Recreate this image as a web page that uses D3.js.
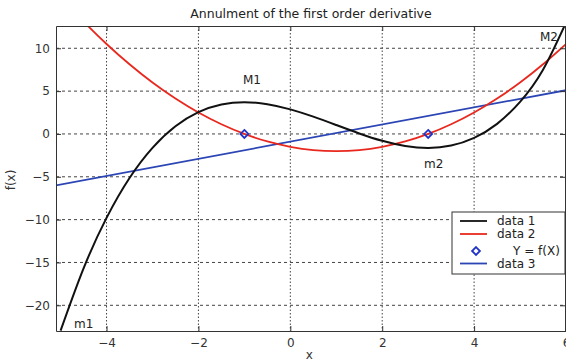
<!DOCTYPE html>
<html>
<head>
<meta charset="utf-8">
<script src="https://cdn.jsdelivr.net/npm/d3@7"></script>
<style>
  body { margin: 0; background: #fff; }
  text { font-family: "DejaVu Sans", "Liberation Sans", Arial, sans-serif; }
</style>
</head>
<body>
<div id="chart"></div>
<script>
// values
const xTicks = [-4, -2, 0, 2, 4, 6];
const yTicks = [-20, -15, -10, -5, 0, 5, 10];

// data 1 : f(x)
const data1X = [-5, -4.5, -4, -3.5, -3, -2.5, -2, -1.5, -1, -0.5, 0, 0.5, 1, 1.5, 2, 2.5, 3, 3.5, 4, 4.5, 5, 5.5, 6];
const data1Y = [-22.96, -15.69, -9.8, -5.15, -1.63, 0.89, 2.54, 3.43, 3.7, 3.47, 2.87, 2.02, 1.04, 0.06, -0.8, -1.4, -1.63, -1.36, -0.46, 1.18, 3.75, 7.5, 13.0];

// data 2 : f'(x)
const data2X = [-5, -4.5, -4, -3.5, -3, -2.5, -2, -1.5, -1, -0.5, 0, 0.5, 1, 1.5, 2, 2.5, 3, 3.5, 4, 4.5, 5, 5.5, 6];
const data2Y = [16, 13.13, 10.5, 8.13, 6, 4.13, 2.5, 1.13, 0, -0.88, -1.5, -1.88, -2, -1.88, -1.5, -0.88, 0, 1.13, 2.5, 4.13, 6, 8.13, 10.5];

// data 3 : straight line
const data3X = [-5.1, 6];
const data3Y = [-6.0, 5.1];

// Y = f(X) markers (zeros of the derivative)
const zeroX = [-1, 3];
const zeroY = [0, 0];

const labels = [
  { t: "M1", x: 243, y: 84 },
  { t: "m2", x: 424, y: 168 },
  { t: "m1", x: 74, y: 328 },
  { t: "M2", x: 540, y: 41 }
];

const W = 566, H = 364;
const plot = { left: 56, right: 566, top: 26, bottom: 331 };

const svg = d3.select("#chart").append("svg")
  .attr("width", W).attr("height", H);

const x = d3.scaleLinear().domain([-5.1, 6]).range([plot.left, plot.right]);
const y = d3.scaleLinear().domain([-23, 12.6]).range([plot.bottom, plot.top]);

// grid
const grid = svg.append("g");
grid.selectAll("line.gx").data(xTicks).enter().append("line")
  .attr("x1", d => x(d)).attr("x2", d => x(d))
  .attr("y1", plot.top).attr("y2", plot.bottom)
  .attr("stroke", "#444").attr("stroke-width", 1)
  .attr("stroke-dasharray", "1.5,2");
grid.selectAll("line.gy").data(yTicks).enter().append("line")
  .attr("x1", plot.left).attr("x2", plot.right)
  .attr("y1", d => y(d)).attr("y2", d => y(d))
  .attr("stroke", "#444").attr("stroke-width", 1)
  .attr("stroke-dasharray", "3,3");

// clip
svg.append("clipPath").attr("id", "clip").append("rect")
  .attr("x", plot.left).attr("y", plot.top)
  .attr("width", plot.right - plot.left).attr("height", plot.bottom - plot.top);

const body = svg.append("g").attr("clip-path", "url(#clip)");

const line = d3.line()
  .x(d => x(d[0])).y(d => y(d[1]))
  .curve(d3.curveNatural);

body.append("path")
  .datum(d3.zip(data3X, data3Y))
  .attr("d", line).attr("fill", "none")
  .attr("stroke", "#2b45b5").attr("stroke-width", 1.8);

body.append("path")
  .datum(d3.zip(data2X, data2Y))
  .attr("d", line).attr("fill", "none")
  .attr("stroke", "#e8281e").attr("stroke-width", 1.8);

body.append("path")
  .datum(d3.zip(data1X, data1Y))
  .attr("d", line).attr("fill", "none")
  .attr("stroke", "#111").attr("stroke-width", 2);

const diamond = d3.symbol().type(d3.symbolDiamond2).size(40);
body.selectAll("path.mk").data(d3.zip(zeroX, zeroY)).enter().append("path")
  .attr("d", diamond)
  .attr("transform", d => `translate(${x(d[0])},${y(d[1])})`)
  .attr("fill", "none").attr("stroke", "#2233c8").attr("stroke-width", 1.8);

// axes (inward ticks, MATLAB style)
const tickFont = g => g.selectAll("text")
  .attr("font-size", 12).attr("fill", "#333");

svg.append("g")
  .attr("transform", `translate(0,${plot.bottom})`)
  .call(d3.axisBottom(x).tickValues(xTicks).tickSizeInner(-5).tickSizeOuter(0).tickPadding(7))
  .call(g => g.select(".domain").attr("stroke", "#333"))
  .call(g => g.selectAll(".tick line").attr("stroke", "#333"))
  .call(tickFont);

svg.append("g")
  .attr("transform", `translate(${plot.left},0)`)
  .call(d3.axisLeft(y).tickValues(yTicks).tickSizeInner(-5).tickSizeOuter(0).tickPadding(6))
  .call(g => g.select(".domain").attr("stroke", "#333"))
  .call(g => g.selectAll(".tick line").attr("stroke", "#333"))
  .call(tickFont);

svg.append("g")
  .attr("transform", `translate(0,${plot.top})`)
  .call(d3.axisTop(x).tickValues(xTicks).tickSizeInner(-5).tickSizeOuter(0).tickFormat(""))
  .call(g => g.select(".domain").attr("stroke", "#333"))
  .call(g => g.selectAll(".tick line").attr("stroke", "#333"));

svg.append("g")
  .attr("transform", `translate(${plot.right - 1},0)`)
  .call(d3.axisRight(y).tickValues(yTicks).tickSizeInner(-5).tickSizeOuter(0).tickFormat(""))
  .call(g => g.select(".domain").attr("stroke", "#333"))
  .call(g => g.selectAll(".tick line").attr("stroke", "#333"));

// title and axis labels
svg.append("text")
  .attr("x", (plot.left + plot.right) / 2).attr("y", 18)
  .attr("text-anchor", "middle").attr("font-size", 12.5).attr("fill", "#222")
  .text("Annulment of the first order derivative");

svg.append("text")
  .attr("x", x(0) + 19).attr("y", 359)
  .attr("text-anchor", "middle").attr("font-size", 12).attr("fill", "#333")
  .text("x");

svg.append("text")
  .attr("transform", "translate(15,180) rotate(-90)")
  .attr("text-anchor", "middle").attr("font-size", 12).attr("fill", "#333")
  .text("f(x)");

// point labels
svg.selectAll("text.lbl").data(labels).enter().append("text")
  .attr("x", d => d.x).attr("y", d => d.y)
  .attr("font-size", 12).attr("fill", "#222")
  .text(d => d.t);

// legend
const legend = svg.append("g").attr("transform", "translate(452,212)");
legend.append("rect")
  .attr("x", 0).attr("y", 0).attr("width", 113).attr("height", 62)
  .attr("fill", "#fff").attr("stroke", "#333").attr("stroke-width", 1);

const legendItems = [
  { name: "data 1", kind: "line", color: "#111" },
  { name: "data 2", kind: "line", color: "#e8281e" },
  { name: "Y = f(X)", kind: "marker", color: "#2233c8" },
  { name: "data 3", kind: "line", color: "#2b45b5" }
];
const rowY = [9, 22, 39, 51.5];

legendItems.forEach((it, i) => {
  const g = legend.append("g").attr("transform", `translate(0,${rowY[i]})`);
  if (it.kind === "line") {
    g.append("line").attr("x1", 8).attr("x2", 35).attr("y1", 0).attr("y2", 0)
      .attr("stroke", it.color).attr("stroke-width", 1.8);
  } else {
    g.append("path").attr("d", diamond).attr("transform", "translate(24,0)")
      .attr("fill", "none").attr("stroke", it.color).attr("stroke-width", 1.8);
  }
  g.append("text")
    .attr("x", it.kind === "line" ? 45 : 61).attr("y", 0)
    .attr("dy", "0.35em").attr("font-size", 12).attr("fill", "#222")
    .text(it.name);
});
</script>
</body>
</html>
